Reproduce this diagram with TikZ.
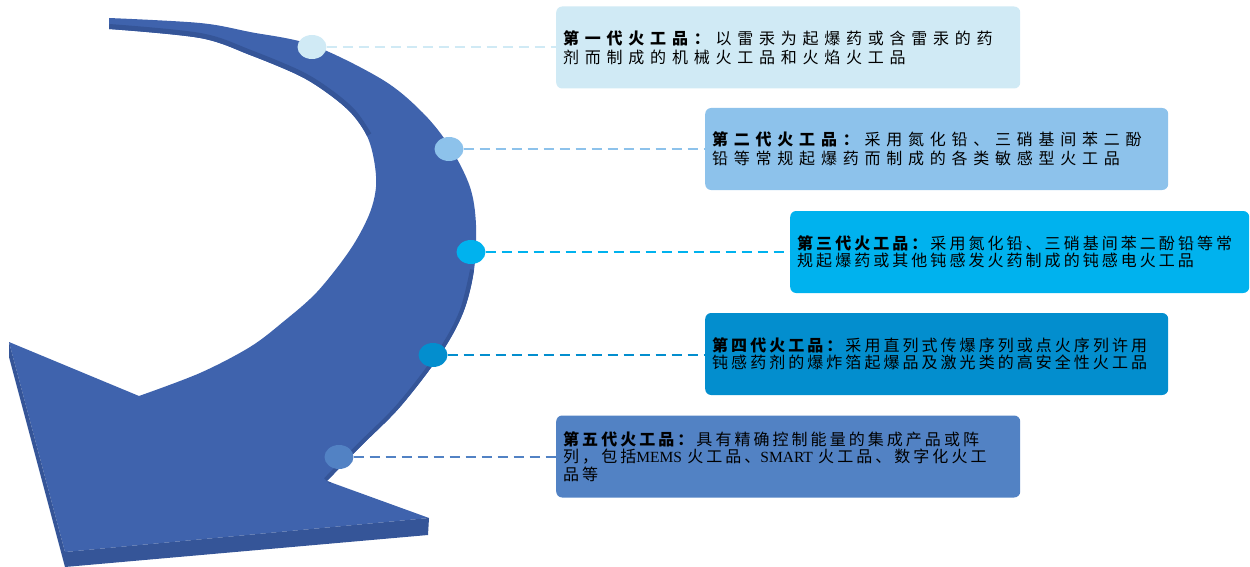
\documentclass[tikz,border=0pt]{standalone}
\usepackage{fontspec}
\setmainfont{Liberation Serif}
\newfontfamily\cjkwide[LetterSpace=36]{Noto Sans CJK SC}
\newfontfamily\cjknarrow[LetterSpace=19]{Noto Sans CJK SC}
\newfontfamily\latinserif{Liberation Serif}
\usetikzlibrary{shapes.geometric}
\definecolor{arrowmain}{RGB}{63,99,173}
\definecolor{arrowdark}{RGB}{53,85,152}
\definecolor{cA}{RGB}{208,234,245}
\definecolor{cB}{RGB}{141,194,235}
\definecolor{cC}{RGB}{0,178,238}
\definecolor{cD}{RGB}{3,142,206}
\definecolor{cE}{RGB}{82,130,196}
\def\arrowpath{plot[smooth,tension=0.55] coordinates {(109,18) (200,23) (250,32) (312,45) (383,80) (423,113) (450,147) (470,187) (476,225) (474,270) (463,313) (440,355) (400,407) (360,447) (327,481)} -- (429,518) -- (65,552) -- (9,342) -- (139,396) -- plot[smooth,tension=0.55] coordinates {(139,396) (200,373) (250,347) (283,322) (317,292) (350,250) (369,215) (376,187) (374,160) (367,136) (352,114) (330,95) (300,76) (250,55) (200,38) (109,29)} -- cycle}
\begin{document}
\begin{tikzpicture}[x=1pt,y=-1pt,
  gbox/.style={rectangle, rounded corners=6pt, anchor=west, align=left, inner xsep=7pt, inner ysep=0pt, minimum height=82pt, text=black},
  gdot/.style={ellipse, minimum width=29pt, minimum height=24pt, inner sep=0pt},
  glink/.style={line width=1.8pt, dash pattern=on 10pt off 6pt},
  wide/.style={font=\cjkwide\fontsize{16}{19}\selectfont},
  narrow/.style={font=\cjknarrow\fontsize{16}{17.5}\selectfont}]
\useasboundingbox (0,0) rectangle (1250,567);
% arrow
\fill[arrowmain] \arrowpath;
\begin{scope}
\clip \arrowpath;
\draw[arrowdark, line width=10pt] plot[smooth,tension=0.55] coordinates {(367,136) (352,114) (330,95) (300,76) (250,55) (200,38) (109,29)};
\draw[arrowdark, line width=8pt] plot[smooth,tension=0.55] coordinates {(474,270) (463,313) (440,355) (400,407) (360,447) (327,481)};
\end{scope}
\fill[arrowdark] (429,518) -- (428,535) -- (65,567) -- (65,552) -- cycle;
\fill[arrowdark] (9,342) -- (9,357) -- (65,567) -- (65,552) -- cycle;
% boxes
\node[gbox, fill=cA, wide, text width=450pt] (b1) at (556,47.5) {\textbf{第一代火工品：}以雷汞为起爆药或含雷汞的药\\剂而制成的机械火工品和火焰火工品};
\node[gbox, fill=cB, wide, text width=449pt] (b2) at (705,149) {\textbf{第二代火工品：}采用氮化铅、三硝基间苯二酚\\铅等常规起爆药而制成的各类敏感型火工品};
\node[gbox, fill=cC, narrow, text width=445pt] (b3) at (790,252) {\textbf{第三代火工品：}采用氮化铅、三硝基间苯二酚铅等常\\规起爆药或其他钝感发火药制成的钝感电火工品};
\node[gbox, fill=cD, narrow, text width=449pt] (b4) at (705,354) {\textbf{第四代火工品：}采用直列式传爆序列或点火序列许用\\钝感药剂的爆炸箔起爆品及激光类的高安全性火工品};
\node[gbox, fill=cE, narrow, text width=450pt] (b5) at (556,456.5) {\textbf{第五代火工品：}具有精确控制能量的集成产品或阵\\列，包括{\latinserif\fontsize{15.5}{17.5}\selectfont MEMS} 火工品、{\latinserif\fontsize{15.5}{17.5}\selectfont SMART} 火工品、数字化火工\\品等};
% dots
\node[gdot, fill=cA] (d1) at (312,47) {};
\node[gdot, fill=cB] (d2) at (449,149) {};
\node[gdot, fill=cC] (d3) at (471,252) {};
\node[gdot, fill=cD] (d4) at (433,355) {};
\node[gdot, fill=cE] (d5) at (339,457) {};
% links
\draw[glink, cA] (d1.east) -- (d1.east -| b1.west);
\draw[glink, cB] (d2.east) -- (d2.east -| b2.west);
\draw[glink, cC] (d3.east) -- (d3.east -| b3.west);
\draw[glink, cD] (d4.east) -- (d4.east -| b4.west);
\draw[glink, cE] (d5.east) -- (d5.east -| b5.west);
\end{tikzpicture}
\end{document}
